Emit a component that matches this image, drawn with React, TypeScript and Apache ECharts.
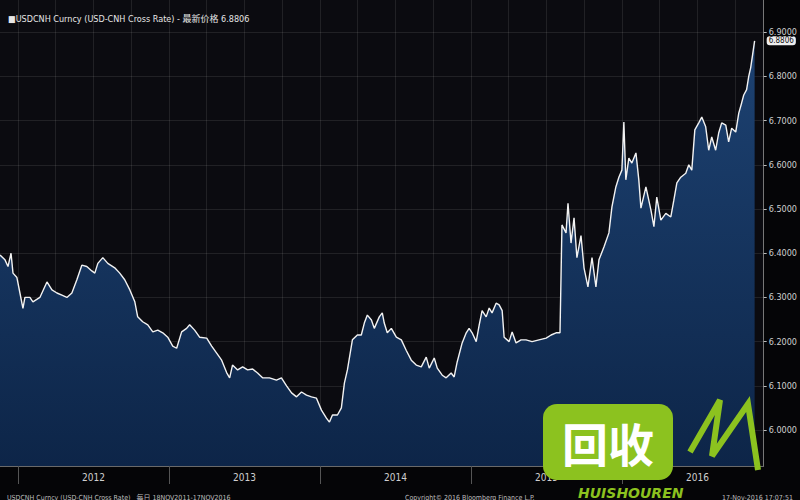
import React, { useEffect, useRef } from "react";
import * as echarts from "echarts";

// Decimal-year positions of the observations (18 Nov 2011 – 17 Nov 2016)
const years = [
  2011.881, 2011.914, 2011.934, 2011.954, 2011.967, 2011.993, 2012.013, 2012.033, 2012.046, 2012.079,
  2012.099, 2012.145, 2012.192, 2012.225, 2012.258, 2012.291, 2012.324, 2012.357, 2012.39, 2012.423,
  2012.456, 2012.489, 2012.509, 2012.529, 2012.562, 2012.595, 2012.641, 2012.674, 2012.707, 2012.741,
  2012.774, 2012.793, 2012.826, 2012.86, 2012.893, 2012.926, 2012.959, 2012.992, 2013.025, 2013.051,
  2013.084, 2013.117, 2013.137, 2013.17, 2013.203, 2013.25, 2013.283, 2013.316, 2013.349, 2013.382,
  2013.402, 2013.421, 2013.455, 2013.488, 2013.521, 2013.554, 2013.587, 2013.62, 2013.666, 2013.712,
  2013.745, 2013.779, 2013.812, 2013.845, 2013.878, 2013.911, 2013.944, 2013.977, 2014.01, 2014.043,
  2014.063, 2014.083, 2014.116, 2014.142, 2014.162, 2014.182, 2014.215, 2014.248, 2014.274, 2014.294,
  2014.314, 2014.341, 2014.36, 2014.393, 2014.413, 2014.426, 2014.446, 2014.473, 2014.506, 2014.539,
  2014.572, 2014.605, 2014.638, 2014.671, 2014.704, 2014.724, 2014.757, 2014.777, 2014.81, 2014.836,
  2014.869, 2014.889, 2014.909, 2014.942, 2014.969, 2014.988, 2015.008, 2015.035, 2015.055, 2015.074,
  2015.101, 2015.121, 2015.14, 2015.167, 2015.187, 2015.207, 2015.22, 2015.253, 2015.273, 2015.299,
  2015.332, 2015.365, 2015.405, 2015.451, 2015.498, 2015.531, 2015.564, 2015.59, 2015.603, 2015.63,
  2015.643, 2015.663, 2015.683, 2015.702, 2015.729, 2015.749, 2015.775, 2015.802, 2015.828, 2015.848,
  2015.881, 2015.914, 2015.934, 2015.96, 2015.98, 2016.0, 2016.013, 2016.026, 2016.046, 2016.066,
  2016.093, 2016.112, 2016.126, 2016.159, 2016.192, 2016.212, 2016.231, 2016.258, 2016.291, 2016.324,
  2016.344, 2016.364, 2016.39, 2016.423, 2016.443, 2016.463, 2016.483, 2016.509, 2016.529, 2016.555,
  2016.575, 2016.595, 2016.621, 2016.641, 2016.661, 2016.688, 2016.707, 2016.727, 2016.754, 2016.774,
  2016.793, 2016.807, 2016.826, 2016.84, 2016.853, 2016.866, 2016.879,
];

// USD-CNH cross rate
const rates = [
  6.396, 6.385, 6.37, 6.4, 6.355, 6.345, 6.31, 6.275, 6.3, 6.3,
  6.29, 6.3, 6.335, 6.317, 6.31, 6.305, 6.3, 6.31, 6.34, 6.373,
  6.37, 6.36, 6.355, 6.377, 6.39, 6.377, 6.367, 6.355, 6.34, 6.317,
  6.29, 6.256, 6.245, 6.238, 6.222, 6.226, 6.22, 6.21, 6.19, 6.185,
  6.222, 6.23, 6.238, 6.226, 6.21, 6.208, 6.19, 6.174, 6.158, 6.13,
  6.118, 6.147, 6.136, 6.143, 6.136, 6.138, 6.129, 6.118, 6.118, 6.113,
  6.118, 6.1, 6.084, 6.075, 6.086, 6.079, 6.075, 6.072, 6.045, 6.027,
  6.018, 6.034, 6.034, 6.05, 6.106, 6.136, 6.204, 6.215, 6.215, 6.242,
  6.26, 6.249, 6.23, 6.256, 6.265, 6.242, 6.22, 6.23, 6.21, 6.204,
  6.18, 6.158, 6.147, 6.143, 6.165, 6.14, 6.163, 6.14, 6.124, 6.118,
  6.129, 6.12, 6.154, 6.197, 6.22, 6.23, 6.22, 6.2, 6.238, 6.27,
  6.256, 6.276, 6.265, 6.287, 6.283, 6.27, 6.21, 6.2, 6.222, 6.197,
  6.204, 6.204, 6.2, 6.204, 6.208, 6.215, 6.22, 6.22, 6.464, 6.446,
  6.513, 6.423, 6.48, 6.39, 6.44, 6.367, 6.324, 6.39, 6.324, 6.385,
  6.414, 6.446, 6.505, 6.55, 6.572, 6.588, 6.697, 6.566, 6.615, 6.604,
  6.627, 6.566, 6.502, 6.55, 6.498, 6.46, 6.527, 6.475, 6.49, 6.482,
  6.52, 6.559, 6.572, 6.581, 6.6, 6.588, 6.679, 6.695, 6.708, 6.686,
  6.633, 6.663, 6.633, 6.672, 6.695, 6.69, 6.652, 6.683, 6.674, 6.717,
  6.74, 6.758, 6.77, 6.8, 6.82, 6.85, 6.8806,
];

const lastPrice = 6.8806;
const yTicks = [6.0, 6.1, 6.2, 6.3, 6.4, 6.5, 6.6, 6.7, 6.8, 6.9];
const yearBoundaries = [2012, 2013, 2014, 2015, 2016];
const yearLabelPositions = [2012.5, 2013.5, 2014.5, 2015.5, 2016.5];
const quarterLines = [
  2012, 2012.25, 2012.5, 2012.75, 2013, 2013.25, 2013.5, 2013.75, 2014, 2014.25, 2014.5, 2014.75,
  2015, 2015.25, 2015.5, 2015.75, 2016, 2016.25, 2016.5, 2016.75,
];

const FONT = "'Liberation Sans Narrow', 'DejaVu Sans Condensed', 'Noto Sans CJK SC', sans-serif";
const GREEN = "#8cc21f";
const Y_MIN = 5.9186;
const Y_MAX = 6.9729;

export default function App() {
  const ref = useRef<HTMLDivElement>(null);

  useEffect(() => {
    if (!ref.current) return;
    const chart = echarts.init(ref.current, undefined, { renderer: "svg" });
    const data = years.map((y, i) => [y, rates[i]]);

    chart.setOption({
      animation: false,
      backgroundColor: "#050507",
      title: [
        {
          text: "\u25A0USDCNH Curncy (USD-CNH Cross Rate) - 最新价格 6.8806",
          left: 3,
          top: 9,
          textStyle: { color: "#e6e6e6", fontSize: 9, fontWeight: "normal", fontFamily: FONT },
        },
        {
          text: "USDCNH Curncy (USD-CNH Cross Rate)   每日 18NOV2011-17NOV2016",
          left: 2,
          top: 489,
          textStyle: { color: "#bdbdbd", fontSize: 7, fontWeight: "normal", fontFamily: FONT },
        },
        {
          text: "Copyright\u00A9 2016 Bloomberg Finance L.P.",
          left: 400,
          top: 489,
          textStyle: { color: "#bdbdbd", fontSize: 7, fontWeight: "normal", fontFamily: FONT },
        },
        {
          text: "17-Nov-2016 17:07:51",
          right: 2,
          top: 489,
          textStyle: { color: "#bdbdbd", fontSize: 7, fontWeight: "normal", fontFamily: FONT },
        },
      ],
      grid: {
        left: 0,
        top: 0,
        right: 35,
        height: 466,
        show: true,
        backgroundColor: "#0b0b10",
        borderWidth: 0,
      },
      xAxis: [
        {
          type: "value",
          min: 2011.881,
          max: 2016.939,
          axisLine: { show: true, lineStyle: { color: "#6a6a6a", width: 1 } },
          axisTick: {
            show: true,
            customValues: yearBoundaries,
            length: 18,
            lineStyle: { color: "#555" },
          },
          axisLabel: {
            customValues: yearLabelPositions,
            formatter: (v: number) => String(Math.floor(v)),
            color: "#cfcfcf",
            fontSize: 10,
            fontFamily: FONT,
            margin: 6,
          },
          splitLine: { show: false },
        },
        {
          type: "value",
          min: 2011.881,
          max: 2016.939,
          position: "bottom",
          axisLine: { show: false },
          axisTick: { show: false, customValues: quarterLines },
          axisLabel: { show: false },
          splitLine: { show: true, lineStyle: { color: "rgba(255,255,255,0.09)", width: 1 } },
        },
      ],
      yAxis: [
        {
          type: "value",
          position: "right",
          min: Y_MIN,
          max: Y_MAX,
          axisLine: { show: true, lineStyle: { color: "#777", width: 1 } },
          axisTick: { show: true, customValues: yTicks, length: 3, lineStyle: { color: "#bbb" } },
          axisLabel: {
            customValues: yTicks,
            formatter: (v: number) => v.toFixed(4),
            color: "#cfcfcf",
            fontSize: 9,
            fontFamily: FONT,
            margin: 5,
          },
          splitLine: { show: true, lineStyle: { color: "rgba(255,255,255,0.09)", width: 1 } },
        },
        {
          type: "value",
          position: "right",
          min: Y_MIN,
          max: Y_MAX,
          axisLine: { show: false },
          axisTick: { show: false, customValues: [lastPrice] },
          axisLabel: {
            customValues: [lastPrice],
            formatter: (v: number) => v.toFixed(4),
            color: "#111111",
            backgroundColor: "#eeeeee",
            borderRadius: 3,
            padding: [0, 2, 0, 2],
            fontSize: 8,
            lineHeight: 9,
            fontFamily: FONT,
            margin: 3,
          },
          splitLine: { show: false },
        },
      ],
      series: [
        {
          type: "line",
          xAxisIndex: 0,
          yAxisIndex: 0,
          data,
          showSymbol: false,
          symbol: "none",
          lineStyle: { color: "#f2f2f2", width: 1.4 },
          areaStyle: {
            color: new echarts.graphic.LinearGradient(0, 0, 0, 1, [
              { offset: 0, color: "#1d4272" },
              { offset: 1, color: "#0d2548" },
            ]),
            opacity: 1,
          },
        },
      ],
      graphic: [
        {
          type: "rect",
          z: 100,
          shape: { x: 543, y: 404, width: 130, height: 76, r: 14 },
          style: { fill: GREEN },
        },
        {
          type: "text",
          z: 101,
          x: 608,
          y: 442,
          style: {
            text: "回收",
            fill: "#ffffff",
            font: "bold 46px 'Noto Sans CJK SC', sans-serif",
            align: "center",
            verticalAlign: "middle",
          },
        },
        {
          type: "polyline",
          z: 100,
          shape: { points: [[690, 452], [720, 400], [712, 456], [748, 404], [758, 470]] },
          style: { stroke: GREEN, lineWidth: 6, fill: null },
        },
        {
          type: "text",
          z: 101,
          x: 578,
          y: 486,
          style: {
            text: "HUISHOUREN",
            fill: GREEN,
            font: "italic bold 14px 'DejaVu Sans', sans-serif",
            verticalAlign: "top",
          },
        },
      ],
    });

    return () => chart.dispose();
  }, []);

  return (
    <div
      ref={ref}
      style={{ position: "fixed", left: 0, top: 0, width: 800, height: 500 }}
    />
  );
}
